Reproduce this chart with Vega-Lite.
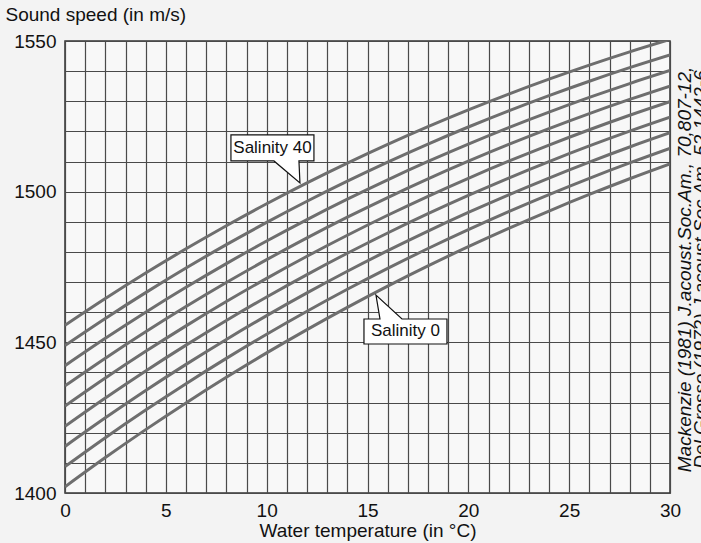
{
  "$schema": "https://vega.github.io/schema/vega-lite/v6.json",
  "width": 605,
  "height": 452,
  "autosize": {"type": "none"},
  "padding": {"left": 65, "top": 41, "right": 31, "bottom": 50},
  "background": "#f3f3f3",
  "config": {
    "font": "Liberation Sans",
    "view": {"stroke": "#333333", "strokeWidth": 1.5, "fill": "#f8f8f8"},
    "axis": {
      "labelFont": "Liberation Sans",
      "titleFont": "Liberation Sans",
      "labelColor": "#111111",
      "titleColor": "#111111",
      "labelFontSize": 19,
      "titleFontSize": 19,
      "titleFontWeight": "normal",
      "gridColor": "#4a4a4a",
      "gridWidth": 1.2,
      "gridOpacity": 1,
      "ticks": false,
      "domain": false
    }
  },
  "datasets": {
    "speed": [
      {"T": 0, "s0": 1402.06, "s5": 1408.76, "s10": 1415.46, "s15": 1422.16, "s20": 1428.86, "s25": 1435.56, "s30": 1442.26, "s35": 1448.96, "s40": 1455.66},
      {"T": 2, "s0": 1411.75, "s5": 1418.35, "s10": 1424.94, "s15": 1431.54, "s20": 1438.14, "s25": 1444.74, "s30": 1451.33, "s35": 1457.93, "s40": 1464.53},
      {"T": 4, "s0": 1421.03, "s5": 1427.52, "s10": 1434.02, "s15": 1440.51, "s20": 1447.01, "s25": 1453.50, "s30": 1460.00, "s35": 1466.49, "s40": 1472.99},
      {"T": 6, "s0": 1429.90, "s5": 1436.29, "s10": 1442.69, "s15": 1449.08, "s20": 1455.47, "s25": 1461.87, "s30": 1468.26, "s35": 1474.65, "s40": 1481.04},
      {"T": 8, "s0": 1438.39, "s5": 1444.68, "s10": 1450.97, "s15": 1457.26, "s20": 1463.55, "s25": 1469.84, "s30": 1476.13, "s35": 1482.42, "s40": 1488.71},
      {"T": 10, "s0": 1446.49, "s5": 1452.68, "s10": 1458.86, "s15": 1465.05, "s20": 1471.24, "s25": 1477.43, "s30": 1483.61, "s35": 1489.80, "s40": 1495.99},
      {"T": 12, "s0": 1454.23, "s5": 1460.31, "s10": 1466.40, "s15": 1472.48, "s20": 1478.57, "s25": 1484.65, "s30": 1490.74, "s35": 1496.82, "s40": 1502.91},
      {"T": 14, "s0": 1461.61, "s5": 1467.60, "s10": 1473.58, "s15": 1479.56, "s20": 1485.54, "s25": 1491.53, "s30": 1497.51, "s35": 1503.49, "s40": 1509.47},
      {"T": 16, "s0": 1468.65, "s5": 1474.53, "s10": 1480.41, "s15": 1486.29, "s20": 1492.17, "s25": 1498.05, "s30": 1503.93, "s35": 1509.81, "s40": 1515.69},
      {"T": 18, "s0": 1475.36, "s5": 1481.14, "s10": 1486.91, "s15": 1492.69, "s20": 1498.47, "s25": 1504.25, "s30": 1510.02, "s35": 1515.80, "s40": 1521.58},
      {"T": 20, "s0": 1481.74, "s5": 1487.41, "s10": 1493.09, "s15": 1498.76, "s20": 1504.44, "s25": 1510.11, "s30": 1515.79, "s35": 1521.46, "s40": 1527.14},
      {"T": 22, "s0": 1487.81, "s5": 1493.39, "s10": 1498.96, "s15": 1504.53, "s20": 1510.10, "s25": 1515.68, "s30": 1521.25, "s35": 1526.82, "s40": 1532.39},
      {"T": 24, "s0": 1493.58, "s5": 1499.05, "s10": 1504.52, "s15": 1509.99, "s20": 1515.46, "s25": 1520.93, "s30": 1526.40, "s35": 1531.87, "s40": 1537.34},
      {"T": 26, "s0": 1499.07, "s5": 1504.44, "s10": 1509.80, "s15": 1515.17, "s20": 1520.54, "s25": 1525.91, "s30": 1531.27, "s35": 1536.64, "s40": 1542.01},
      {"T": 28, "s0": 1504.29, "s5": 1509.55, "s10": 1514.82, "s15": 1520.08, "s20": 1525.35, "s25": 1530.61, "s30": 1535.88, "s35": 1541.14, "s40": 1546.41},
      {"T": 30, "s0": 1509.22, "s5": 1514.39, "s10": 1519.55, "s15": 1524.71, "s20": 1529.87, "s25": 1535.04, "s30": 1540.20, "s35": 1545.36, "s40": 1550.52}
    ],
    "callouts": [
      {"label": "Salinity 40", "tipT": 11.65, "tipV": 1502.9, "boxT": 10.29, "boxV": 1514.5},
      {"label": "Salinity 0", "tipT": 15.42, "tipV": 1465.7, "boxT": 16.88, "boxV": 1453.6}
    ]
  },
  "resolve": {"axis": {"y": "independent"}},
  "layer": [
    {
      "data": {"name": "speed"},
      "transform": [
        {"fold": ["s0", "s5", "s10", "s15", "s20", "s25", "s30", "s35", "s40"], "as": ["S", "v"]}
      ],
      "mark": {"type": "line", "color": "#6e6e6e", "strokeWidth": 3, "interpolate": "monotone", "clip": true},
      "encoding": {
        "x": {
          "field": "T", "type": "quantitative",
          "scale": {"domain": [0, 30], "nice": false, "zero": false},
          "axis": {
            "values": [0,1,2,3,4,5,6,7,8,9,10,11,12,13,14,15,16,17,18,19,20,21,22,23,24,25,26,27,28,29,30],
            "labelExpr": "datum.value % 5 === 0 ? datum.label : ''",
            "labelFlush": false,
            "labelOverlap": false,
            "labelPadding": 8,
            "title": "Water temperature (in °C)",
            "titlePadding": 1
          }
        },
        "y": {
          "field": "v", "type": "quantitative",
          "scale": {"domain": [1400, 1550], "nice": false, "zero": false},
          "axis": {
            "values": [1400,1410,1420,1430,1440,1450,1460,1470,1480,1490,1500,1510,1520,1530,1540,1550],
            "format": "d",
            "labelExpr": "datum.value % 50 === 0 ? datum.label : ''",
            "labelOverlap": false,
            "labelPadding": 9,
            "title": "Sound speed (in m/s)",
            "titleAngle": 0,
            "titleAlign": "left",
            "titleBaseline": "alphabetic",
            "titleX": -60,
            "titleY": -21
          }
        },
        "detail": {"field": "S"}
      }
    },
    {
      "data": {"name": "callouts"},
      "transform": [{"filter": "datum.label === 'Salinity 40'"}],
      "mark": {"type": "point", "shape": "M -69 -48 L 14 -48 L 14 -22 L -1 -22 L 0 0 L -26 -22 L -69 -22 Z", "size": 4, "filled": true, "fill": "#ffffff", "stroke": "#111111", "strokeWidth": 1.2, "opacity": 1},
      "encoding": {
        "x": {"field": "tipT", "type": "quantitative",
          "axis": {
            "values": [0,1,2,3,4,5,6,7,8,9,10,11,12,13,14,15,16,17,18,19,20,21,22,23,24,25,26,27,28,29,30],
            "labelExpr": "datum.value % 5 === 0 ? datum.label : ''",
            "labelFlush": false,
            "labelOverlap": false,
            "labelPadding": 8,
            "title": "Water temperature (in °C)",
            "titlePadding": 1
          }
        },
        "y": {"field": "tipV", "type": "quantitative",
          "axis": {
            "orient": "right",
            "labels": false,
            "grid": false,
            "title": ["Mackenzie (1981) J.acoust.Soc.Am.,  70,807-12,", "Del Grosso (1972) J.acoust Soc Am.  52,1442-6"],
            "titleAngle": 270,
            "titleFontStyle": "italic",
            "titleLineHeight": 16,
            "titleAlign": "center",
            "titleBaseline": "alphabetic",
            "titleX": 20,
            "titleY": 228
          }
        }
      }
    },
    {
      "data": {"name": "callouts"},
      "transform": [{"filter": "datum.label === 'Salinity 0'"}],
      "mark": {"type": "point", "shape": "M -12 24 L 4 24 L 0 0 L 26 24 L 71 24 L 71 49 L -12 49 Z", "size": 4, "filled": true, "fill": "#ffffff", "stroke": "#111111", "strokeWidth": 1.2, "opacity": 1},
      "encoding": {
        "x": {"field": "tipT", "type": "quantitative",
          "axis": {
            "values": [0,1,2,3,4,5,6,7,8,9,10,11,12,13,14,15,16,17,18,19,20,21,22,23,24,25,26,27,28,29,30],
            "labelExpr": "datum.value % 5 === 0 ? datum.label : ''",
            "labelFlush": false,
            "labelOverlap": false,
            "labelPadding": 8,
            "title": "Water temperature (in °C)",
            "titlePadding": 1
          }
        },
        "y": {"field": "tipV", "type": "quantitative", "axis": null}
      }
    },
    {
      "data": {"name": "callouts"},
      "mark": {"type": "text", "fontSize": 17, "color": "#111111", "align": "center", "baseline": "middle"},
      "encoding": {
        "x": {"field": "boxT", "type": "quantitative",
          "axis": {
            "values": [0,1,2,3,4,5,6,7,8,9,10,11,12,13,14,15,16,17,18,19,20,21,22,23,24,25,26,27,28,29,30],
            "labelExpr": "datum.value % 5 === 0 ? datum.label : ''",
            "labelFlush": false,
            "labelOverlap": false,
            "labelPadding": 8,
            "title": "Water temperature (in °C)",
            "titlePadding": 1
          }
        },
        "y": {"field": "boxV", "type": "quantitative", "axis": null},
        "text": {"field": "label"}
      }
    }
  ]
}
